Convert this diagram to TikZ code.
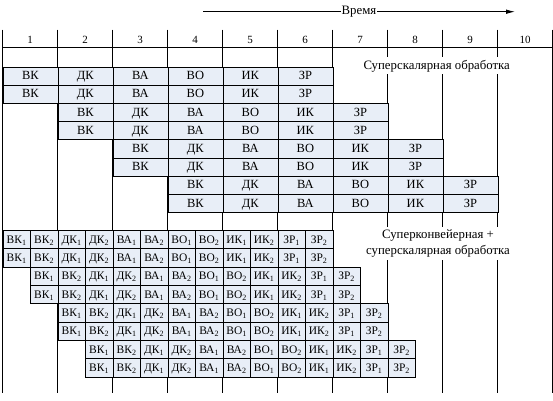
\documentclass[tikz,border=0pt]{standalone}
\usepackage{fontspec}
\setmainfont{Liberation Serif}
\usetikzlibrary{arrows.meta}
\definecolor{cellblue}{RGB}{232,238,247}
\tikzset{
  cell/.style={draw,fill=cellblue,line width=0.8pt,inner sep=0pt,anchor=north west,minimum height=18.2pt,text height=8.5pt,text depth=1pt},
  wide/.style={cell,minimum width=55pt,font=\fontsize{12.5}{14}\selectfont},
  half/.style={cell,minimum width=27.5pt,font=\fontsize{11.5}{13}\selectfont},
  note/.style={fill=white,inner xsep=1pt,inner ysep=2.5pt,align=center,font=\fontsize{12.8}{16}\selectfont},
  grid/.style={line width=0.8pt}
}
\begin{document}
\begin{tikzpicture}[x=1pt,y=-1pt]
\useasboundingbox (0,0) rectangle (553,400);

\def\W{55}
\def\Xo{2.5}

% Time arrow
\coordinate (t0) at (203,11.7);
\coordinate (t1) at (515,11.7);
\draw[grid,-{Latex[length=9pt,width=4.5pt]}] (t0) -- node[note,inner ysep=0.5pt] (time) {Время} (t1);

% Grid
\foreach \k in {0,...,10}
  \draw[grid] (\Xo+\W*\k,29.5) -- (\Xo+\W*\k,393);
\draw[grid] (\Xo,47.7) -- (\Xo+\W*10,47.7);
\foreach \k in {1,...,10}
  \node[font=\fontsize{11}{13}\selectfont] (n\k) at (\Xo+\W*\k-\W/2,39.5) {\k};

% -------- Superscalar --------
\foreach \r in {0,...,7}{
  \pgfmathtruncatemacro\p{\r/2}
  \foreach \op [count=\c from 0] in {ВК,ДК,ВА,ВО,ИК,ЗР}
    \node[wide] (s\r-\c) at (\Xo+\W*\p+\W*\c,66.5+18.2*\r) {\op};
}
\node[note,anchor=base] (ss) at (436.7,69) {Суперскалярная обработка};

% -------- Superpipeline + superscalar --------
\foreach \r in {0,...,7}{
  \pgfmathtruncatemacro\p{\r/2}
  \foreach \op [count=\c from 0] in {ВК,ДК,ВА,ВО,ИК,ЗР}
    \foreach \i in {1,2}
      \node[half] (h\r-\c-\i) at (\Xo+27.5*\p+\W*\c+27.5*\i-27.5,230+18.33*\r) {\op\textsubscript{\i}};
}
\node[note] (sp) at (438,243.7) {Суперконвейерная +\\суперскалярная обработка};

\end{tikzpicture}
\end{document}
